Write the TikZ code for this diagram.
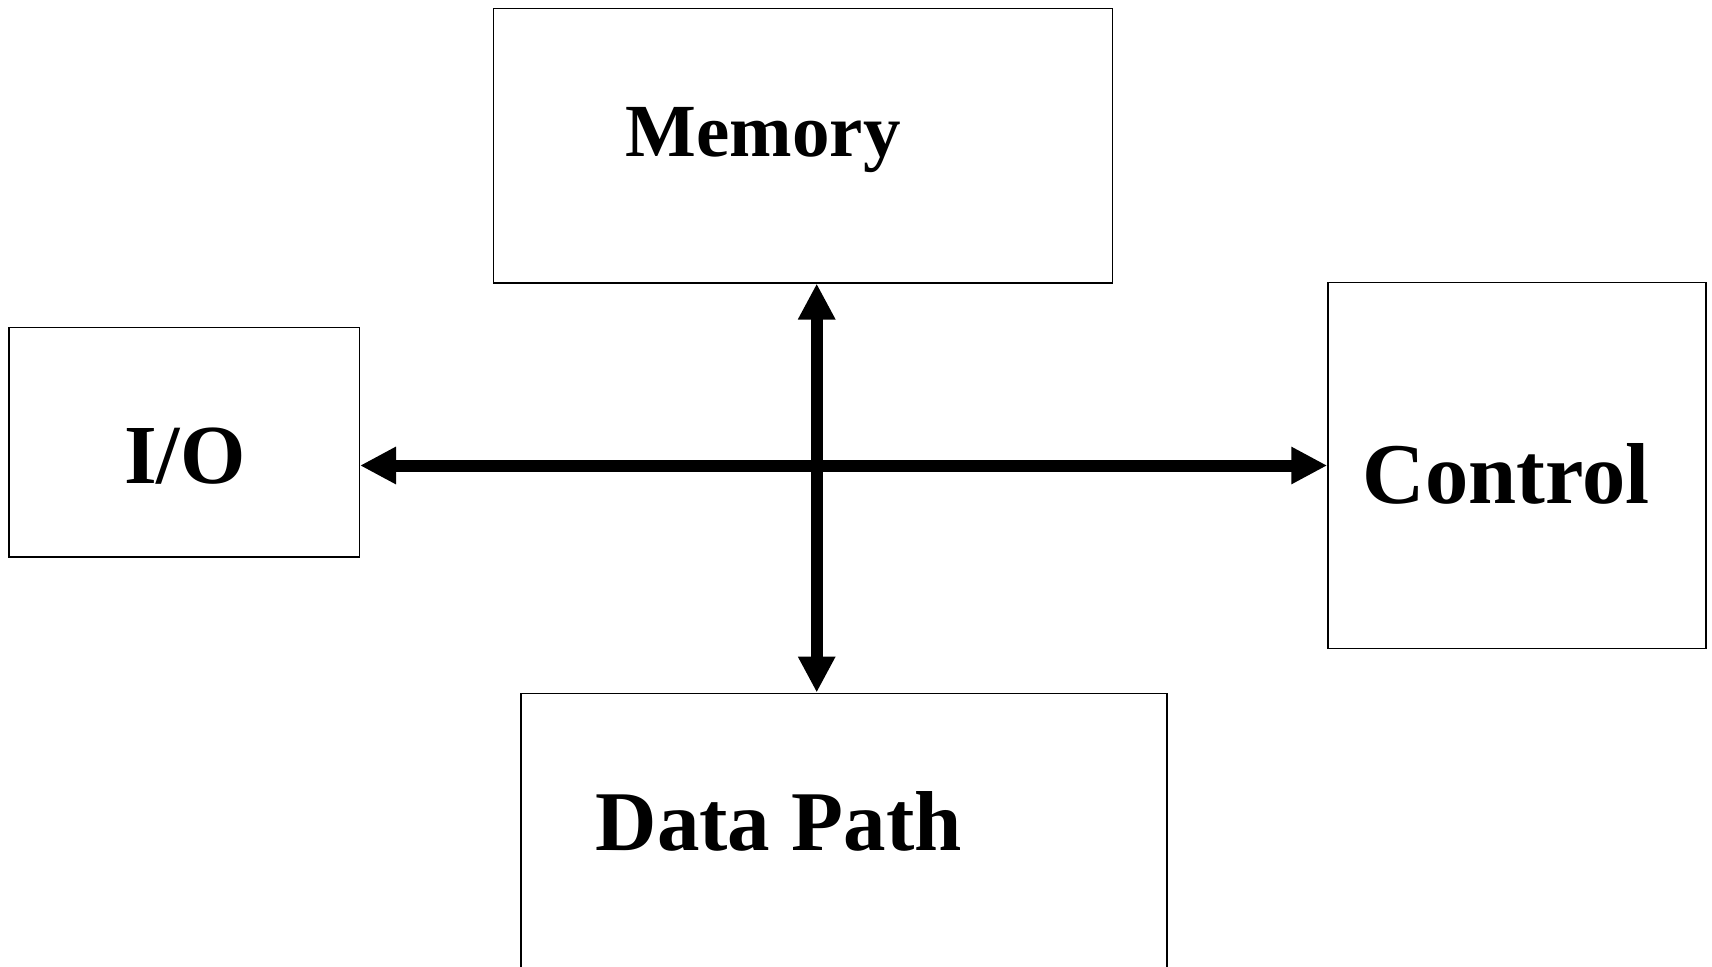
\documentclass[tikz,border=0pt]{standalone}
\usepackage{fontspec}
\setmainfont{Liberation Serif}
\usetikzlibrary{
    arrows.meta,
    positioning
}

\begin{document}
\begin{tikzpicture}[x=1pt, y=-1pt,
    unit box/.style={shape=rectangle, draw, line width=1.5pt, inner sep=0pt},
    unit label/.style={anchor=base west, inner sep=0pt, font=\bfseries\fontsize{84}{90}\selectfont},
    bus/.style={line width=12pt, {Triangle[length=36pt,width=35pt]}-{Triangle[length=36pt,width=35pt]}}]
    \path[use as bounding box, clip] (0,0) rectangle (1712,966);
    % the four units
    \path (803,145.75)  node [unit box, minimum width=619pt, minimum height=274pt] (mem) {}
          (184,442.15)  node [unit box, minimum width=350.5pt, minimum height=229.3pt] (io) {}
          (1517,465.5)  node [unit box, minimum width=378pt, minimum height=365.6pt] (ctl) {}
          (844,846.65)  node [unit box, minimum width=646pt, minimum height=306.7pt] (dp) {};
    \path (625.6,156) node [unit label, font=\bfseries\fontsize{75}{80}\selectfont] (memtext) {Memory}
          (124,483.3)   node [unit label] (iotext) {I/O}
          (1362.5,503.3) node [unit label, font=\bfseries\fontsize{86.5}{90}\selectfont] (ctltext) {Control}
          (595.5,850)   node [unit label, font=\bfseries\fontsize{85}{90}\selectfont] (dptext) {Data Path};
    % bus lines
    \coordinate (cross) at (816.7,465);
    \draw[bus] (ctl.west -| io.east) -- (ctl.west);
    \draw[bus] (mem.south -| cross) -- (dp.north -| cross);
\end{tikzpicture}
\end{document}
